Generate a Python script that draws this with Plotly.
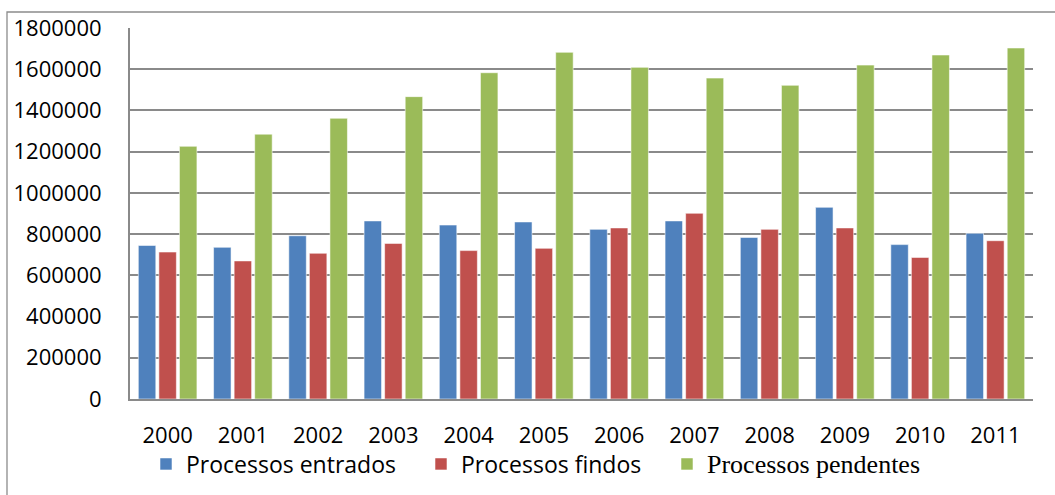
import plotly.graph_objects as go

anos = ["2000", "2001", "2002", "2003", "2004", "2005",
        "2006", "2007", "2008", "2009", "2010", "2011"]

entrados = [745000, 736000, 792000, 864000, 844000, 859000,
            823000, 864000, 784000, 930000, 749000, 804000]
findos = [713000, 670000, 707000, 755000, 720000, 731000,
          830000, 901000, 823000, 830000, 687000, 768000]
pendentes = [1226000, 1285000, 1362000, 1467000, 1583000, 1682000,
             1609000, 1557000, 1522000, 1620000, 1669000, 1703000]

y_ticks = [0, 200000, 400000, 600000, 800000, 1000000,
           1200000, 1400000, 1600000, 1800000]

SANS = "Open Sans"
SERIF = "Liberation Serif"
GRID = "#8a8a8a"

series = [
    ("Processos entrados", entrados, "#4F81BD", "legend",
     f"font-family:{SANS};font-size:23px"),
    ("Processos findos", findos, "#C0504D", "legend2",
     f"font-family:{SANS};font-size:23px"),
    ("Processos pendentes", pendentes, "#9BBB59", "legend3",
     f"font-family:{SERIF};font-size:26px"),
]

fig = go.Figure()
for name, vals, color, leg, style in series:
    fig.add_trace(go.Bar(
        x=anos, y=vals,
        name=f'<span style="{style}">{name}</span>',
        marker=dict(color=color, line=dict(color="rgba(255,255,255,0.55)", width=1)),
        legend=leg,
    ))

W, H = 1055, 495
L, R, T, B = 130, 22, 28, 96


def legend_at(px, py):
    return dict(
        xref="container", yref="container",
        x=px / W, y=1 - py / H, xanchor="left", yanchor="middle",
        orientation="h", bgcolor="rgba(0,0,0,0)", borderwidth=0,
        font=dict(family=SANS, size=23, color="#000000"),
        itemwidth=30,
    )


fig.update_layout(
    width=W, height=H,
    margin=dict(l=L, r=R, t=T, b=B, autoexpand=False),
    paper_bgcolor="white", plot_bgcolor="white",
    barmode="group", bargap=0.18, bargroupgap=0.15,
    font=dict(family=SANS, size=22, color="#000000"),
    showlegend=True,
    legend=legend_at(146, 464),
    legend2=legend_at(421, 464),
    legend3=legend_at(667, 464),
    xaxis=dict(
        type="category", showgrid=False,
        showline=True, linecolor=GRID, linewidth=2,
        ticks="", ticklabelstandoff=16,
        tickfont=dict(family=SANS, size=22, color="#000000"),
    ),
    yaxis=dict(
        range=[0, 1800000], tickvals=y_ticks, tickformat="d",
        showgrid=True, gridcolor=GRID, gridwidth=1.6,
        showline=True, linecolor=GRID, linewidth=2,
        zeroline=False,
        ticks="", ticklabelstandoff=22,
        tickfont=dict(family=SANS, size=22, color="#000000"),
    ),
)

# outer chart frame, running off the right and bottom edges
fig.add_shape(
    type="rect", xref="paper", yref="paper",
    x0=(7 - L) / (W - L - R), x1=1.3,
    y0=-0.6, y1=(H - B - 12) / (H - T - B),
    line=dict(color="#8c8c8c", width=1.3), fillcolor="rgba(0,0,0,0)",
    layer="below",
)

fig.write_html("out.html")
